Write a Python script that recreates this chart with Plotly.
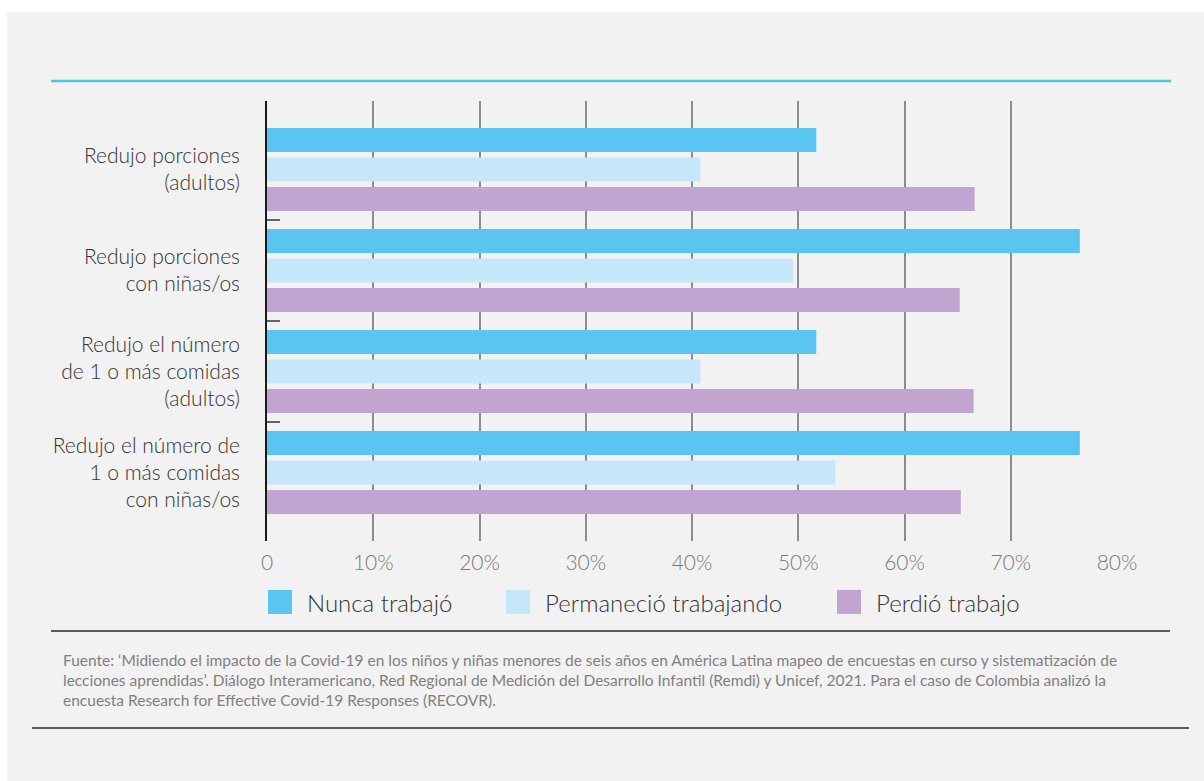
import plotly.graph_objects as go

# ---------------- data ----------------
categories = [
    "Redujo porciones<br>(adultos)",
    "Redujo porciones<br>con niñas/os",
    "Redujo el número<br>de 1 o más comidas<br>(adultos)",
    "Redujo el número de<br>1 o más comidas<br>con niñas/os",
]
series_names = ["Nunca trabajó", "Permaneció trabajando", "Perdió trabajo"]
nunca_trabajo = [51.7, 76.5, 51.7, 76.5]
permanecio_trabajando = [40.8, 49.5, 40.8, 53.5]
perdio_trabajo = [66.6, 65.2, 66.5, 65.3]
series_values = [nunca_trabajo, permanecio_trabajando, perdio_trabajo]
series_colors = ["#5BC5F2", "#C6E6F9", "#C2A4D0"]

x_tick_vals = [0, 10, 20, 30, 40, 50, 60, 70, 80]
x_tick_text = ["0", "10%", "20%", "30%", "40%", "50%", "60%", "70%", "80%"]

source_lines = [
    "Fuente: ‘Midiendo el impacto de la Covid-19 en los niños y niñas menores de seis años en América Latina mapeo de encuestas en curso y sistematización de",
    "lecciones aprendidas’. Diálogo Interamericano, Red Regional de Medición del Desarrollo Infantil (Remdi) y Unicef, 2021. Para el caso de Colombia analizó la",
    "encuesta Research for Effective Covid-19 Responses (RECOVR).",
]

# ---------------- layout constants (pixels) ----------------
W, H = 1204, 781
PL, PR, PT, PB = 267, 1117, 101, 541   # plot area edges


def px(x):
    return (x - PL) / (PR - PL)


def py(y):
    return (PB - y) / (PB - PT)


BG = "#F2F2F2"
FONT = "Lato"

fig = go.Figure()
for name, vals, col in zip(series_names, series_values, series_colors):
    fig.add_trace(go.Bar(
        y=categories, x=vals, name=name, orientation="h",
        marker=dict(color=col, line=dict(width=0)),
        showlegend=False, hoverinfo="x+name",
    ))

shapes = []
# white margins around the gray card
shapes.append(dict(type="rect", xref="paper", yref="paper",
                   x0=px(0), x1=px(W), y0=py(0), y1=py(12),
                   fillcolor="white", line=dict(width=0), layer="below"))
shapes.append(dict(type="rect", xref="paper", yref="paper",
                   x0=px(0), x1=px(7), y0=py(H), y1=py(0),
                   fillcolor="white", line=dict(width=0), layer="below"))
# cyan top rule
shapes.append(dict(type="line", xref="paper", yref="paper",
                   x0=px(51), x1=px(1171), y0=py(81), y1=py(81),
                   line=dict(color="#4DC3EA", width=2.5)))
# rule below legend
shapes.append(dict(type="line", xref="paper", yref="paper",
                   x0=px(51), x1=px(1170), y0=py(631), y1=py(631),
                   line=dict(color="#5A5A5A", width=2)))
# bottom rule
shapes.append(dict(type="line", xref="paper", yref="paper",
                   x0=px(32), x1=px(1189), y0=py(728), y1=py(728),
                   line=dict(color="#5A5A5A", width=2)))
# tick marks between categories
for i in range(len(categories) - 1):
    shapes.append(dict(type="line", xref="paper", yref="y",
                       x0=0, x1=px(PL + 13), y0=i + 0.5, y1=i + 0.5,
                       line=dict(color="#333333", width=1.5)))

annotations = []
# custom legend
legend_sq_x = [268, 506, 837]
for name, col, lx in zip(series_names, series_colors, legend_sq_x):
    shapes.append(dict(type="rect", xref="paper", yref="paper",
                       x0=px(lx), x1=px(lx + 24), y0=py(614), y1=py(590),
                       fillcolor=col, line=dict(width=0)))
    annotations.append(dict(xref="paper", yref="paper", x=px(lx + 37), y=py(602),
                            text=name, showarrow=False, xanchor="left", yanchor="middle",
                            font=dict(family=FONT, size=24, color="#333333", weight=300)))

# source text
for i, line in enumerate(source_lines):
    annotations.append(dict(xref="paper", yref="paper", x=px(61), y=py(660 + 20 * i),
                            text=line, showarrow=False, xanchor="left", yanchor="middle",
                            font=dict(family=FONT, size=15.5, color="#808080")))

fig.update_layout(
    width=W, height=H,
    margin=dict(l=PL, r=W - PR, t=PT, b=H - PB, pad=0),
    paper_bgcolor=BG, plot_bgcolor=BG,
    barmode="group", bargap=0.124, bargroupgap=0.186,
    shapes=shapes, annotations=annotations,
    xaxis=dict(range=[0, 80], tickvals=x_tick_vals, ticktext=x_tick_text,
               showgrid=True, gridcolor="#8C8C8C", gridwidth=1.5,
               zeroline=False, showline=False, ticks="",
               ticklabelstandoff=7,
               tickfont=dict(family=FONT, size=21, color="#7A7A7A", weight=300),
               fixedrange=True),
    yaxis=dict(type="category", range=[len(categories) - 1 + 0.678, -0.678],
               showgrid=False, zeroline=False,
               showline=True, linecolor="#1A1A1A", linewidth=1.5,
               ticks="", ticklabelstandoff=21,
               tickfont=dict(family=FONT, size=21, color="#333333", weight=300),
               fixedrange=True),
    font=dict(family=FONT),
)

fig.write_html("out.html")
